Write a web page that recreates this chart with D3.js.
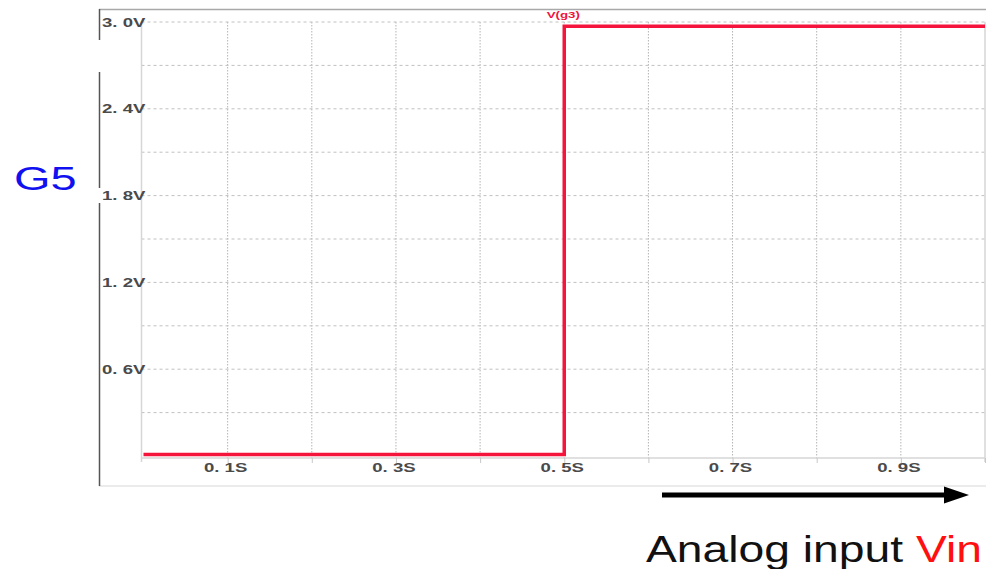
<!DOCTYPE html>
<html>
<head>
<meta charset="utf-8">
<script src="https://cdn.jsdelivr.net/npm/d3@7/dist/d3.min.js"></script>
<style>
  html, body { margin: 0; padding: 0; background: #fff; }
  svg { display: block; }
</style>
</head>
<body>
<svg id="chart" width="986" height="569"></svg>
<script>
// Transient trace V(g3): time in seconds, voltage in volts
const timeS = [0, 0.5, 0.5, 1.0];
const voltV = [0.01, 0.01, 2.97, 2.97];

// Axis ticks and their labels
const xGridTicks = [0.1, 0.2, 0.3, 0.4, 0.5, 0.6, 0.7, 0.8, 0.9];
const xTickMarks = [0.1, 0.2, 0.3, 0.4, 0.5, 0.6, 0.7, 0.8, 0.9, 1.0];
const xLabelTicks = [0.1, 0.3, 0.5, 0.7, 0.9];
const xLabelText = ["0. 1S", "0. 3S", "0. 5S", "0. 7S", "0. 9S"];
const yGridTicks = [0.3, 0.6, 0.9, 1.2, 1.5, 1.8, 2.1, 2.4, 2.7, 3.0];
const yLabelTicks = [3.0, 2.4, 1.8, 1.2, 0.6];
const yLabelText = ["3. 0V", "2. 4V", "1. 8V", "1. 2V", "0. 6V"];

const traceName = "V(g3)";
const sideTitle = "G5";
const captionMain = "Analog input ";
const captionVar = "Vin";

const svg = d3.select("#chart");

const x = d3.scaleLinear().domain([0, 1]).range([143.5, 985]);
const y = d3.scaleLinear().domain([0, 3]).range([456, 22]);

// Outer frame of the plot window
const frame = svg.append("g");
frame.append("line").attr("x1", 99).attr("x2", 986).attr("y1", 9.5).attr("y2", 9.5)
  .attr("stroke", "#a8a8a8").attr("stroke-width", 1.5);
frame.append("line").attr("x1", 99).attr("x2", 986).attr("y1", 486).attr("y2", 486)
  .attr("stroke", "#e4e4e4").attr("stroke-width", 1.5);
[[9, 40], [72, 188], [203, 486]].forEach(([a, b]) => {
  frame.append("line").attr("x1", 99.5).attr("x2", 99.5).attr("y1", a).attr("y2", b)
    .attr("stroke", "#555").attr("stroke-width", 1.5);
});

// Dotted grid
const grid = svg.append("g");
grid.selectAll("line.v").data(xGridTicks).join("line")
  .attr("class", "v")
  .attr("x1", d => x(d)).attr("x2", d => x(d))
  .attr("y1", y(3)).attr("y2", y(0) + 2)
  .attr("stroke", "#b4b4b4").attr("stroke-width", 1)
  .attr("stroke-dasharray", "1.5,1.5");
grid.selectAll("line.h").data(yGridTicks).join("line")
  .attr("class", "h")
  .attr("x1", x(0) - 2).attr("x2", x(1))
  .attr("y1", d => y(d)).attr("y2", d => y(d))
  .attr("stroke", "#c0c0c0").attr("stroke-width", 1)
  .attr("stroke-dasharray", "3,3");

// Plot box: left, right and bottom edges
grid.append("line").attr("x1", 141.5).attr("x2", 141.5).attr("y1", y(3)).attr("y2", y(0) + 6)
  .attr("stroke", "#d6d6d6").attr("stroke-width", 1.5);
grid.append("line").attr("x1", x(1)).attr("x2", x(1)).attr("y1", y(3)).attr("y2", y(0) + 6)
  .attr("stroke", "#d6d6d6").attr("stroke-width", 1.5);

// Bottom axis with tick marks
const xAxis = svg.append("g")
  .attr("transform", `translate(0,${y(0) + 2})`)
  .call(d3.axisBottom(x).tickValues(xTickMarks).tickSize(5).tickSizeOuter(0).tickFormat(""));
xAxis.select(".domain").attr("stroke", "#d6d6d6").attr("stroke-width", 1.5)
  .attr("d", `M${141.5},0H${x(1)}`);
xAxis.selectAll(".tick line").attr("stroke", "#c8c8c8");

// Bottom axis labels
const labelFont = "'Liberation Sans', Arial, sans-serif";
svg.append("g").selectAll("text").data(xLabelTicks).join("text")
  .attr("transform", d => `translate(${x(d) - 2},${y(0) + 16}) scale(1.55,1)`)
  .attr("text-anchor", "middle")
  .attr("font-family", labelFont).attr("font-weight", "bold").attr("font-size", 12)
  .attr("fill", "#4a4a4a")
  .text((d, i) => xLabelText[i]);

// Left axis labels
svg.append("g").selectAll("text").data(yLabelTicks).join("text")
  .attr("transform", d => `translate(102,${y(d) + 4.5}) scale(1.55,1)`)
  .attr("text-anchor", "start")
  .attr("font-family", labelFont).attr("font-weight", "bold").attr("font-size", 12)
  .attr("fill", "#4a4a4a")
  .text((d, i) => yLabelText[i]);

// Trace
const line = d3.line().x(d => x(d[0])).y(d => y(d[1]));
svg.append("path")
  .datum(timeS.map((t, i) => [t, voltV[i]]))
  .attr("d", line)
  .attr("fill", "none")
  .attr("stroke", "#f5143c")
  .attr("stroke-width", 3.5);

// Trace name
svg.append("text")
  .attr("transform", `translate(${x(0.5) - 1},18) scale(1.4,1)`)
  .attr("text-anchor", "middle")
  .attr("font-family", labelFont).attr("font-weight", "bold").attr("font-size", 9.5)
  .attr("fill", "#f0143c")
  .text(traceName);

// Side title
svg.append("text")
  .attr("transform", "translate(14,190) scale(1.38,1)")
  .attr("font-family", labelFont).attr("font-size", 34)
  .attr("fill", "#1010f0")
  .text(sideTitle);

// Direction arrow
svg.append("line").attr("x1", 662).attr("x2", 948).attr("y1", 495).attr("y2", 495)
  .attr("stroke", "#000").attr("stroke-width", 5);
svg.append("path").attr("d", "M944,486.5 L969,495 L944,503.5 Z").attr("fill", "#000");

// Caption
const cap = svg.append("text")
  .attr("transform", "translate(646,562) scale(1.25,1)")
  .attr("font-family", labelFont).attr("font-size", 37)
  .attr("fill", "#111");
cap.append("tspan").text(captionMain);
cap.append("tspan").attr("fill", "#ff1010").text(captionVar);
</script>
</body>
</html>
